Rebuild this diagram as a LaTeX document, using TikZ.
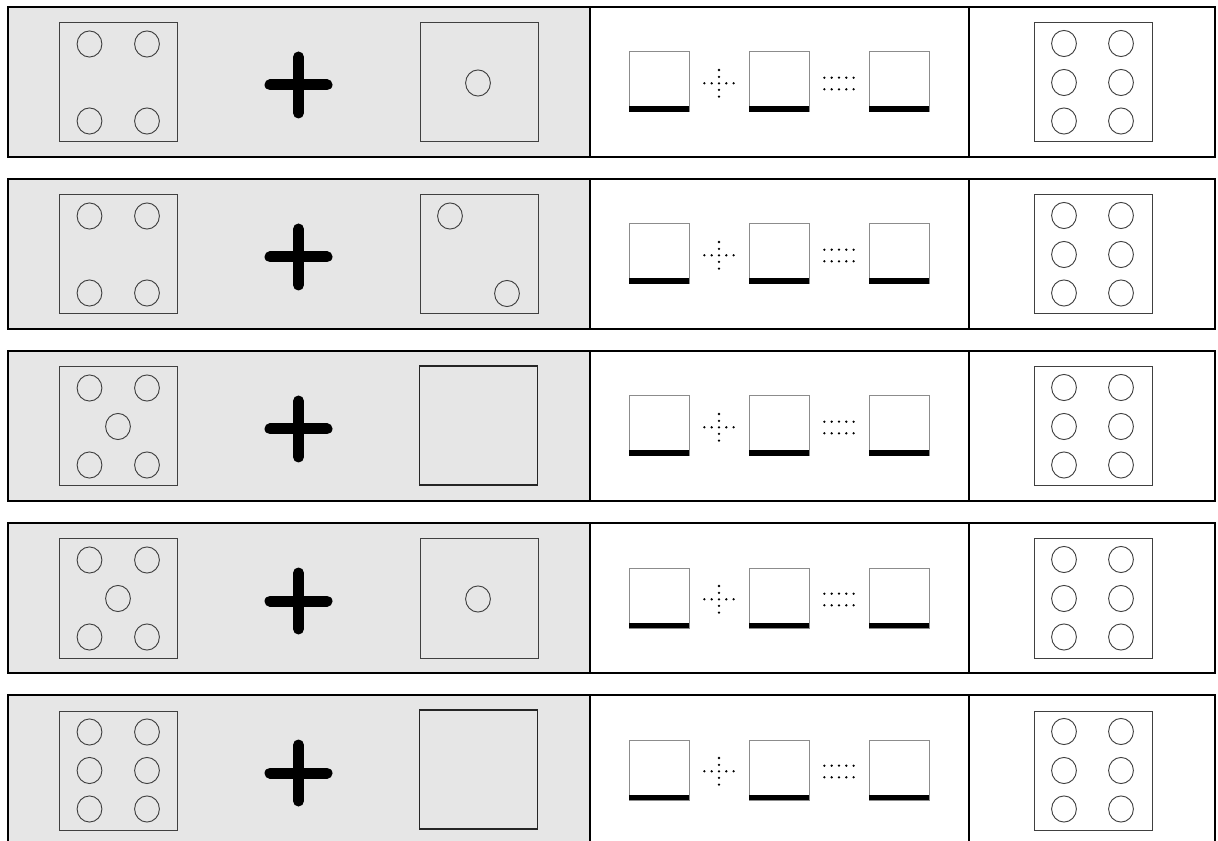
\documentclass[tikz,border=0pt]{standalone}
\usetikzlibrary{calc}
\definecolor{panelgray}{HTML}{E6E6E6}
\definecolor{diegray}{HTML}{404040}
\definecolor{slotgray}{HTML}{8C8C8C}
\tikzset{
  panel/.style={draw=black, line width=1.5pt},
  die/.style={draw=diegray, line width=0.75pt, minimum width=88.5pt, minimum height=89.25pt,
              inner sep=0pt, outer sep=0pt, anchor=north west},
  emptydie/.style={die, draw=black!85, line width=1.2pt},
  pip/.style={draw=diegray, line width=0.7pt},
  plussign/.style={line width=8.25pt, line cap=round, draw=black},
  slot/.style={draw=slotgray, line width=0.75pt, fill=white, minimum width=45pt, minimum height=45pt,
               inner sep=0pt, outer sep=0pt, anchor=north west},
  dotmark/.style={fill=black, draw=none},
}
\newcommand\diepips[2]{\foreach \px/\py in {#2}{\draw[pip] ($(#1.north west)+(\px,\py)$) ellipse [x radius=9.3pt, y radius=9.8pt];}}
\begin{document}
\begin{tikzpicture}[x=0.75pt, y=-0.75pt]
\useasboundingbox (0,0) rectangle (1218,841);
\clip (0,0) rectangle (1218,841);
\foreach \r/\T in {1/7,2/179,3/351,4/523,5/695}{
  % panels
  \fill[panelgray] (7.5,\T) rectangle (589.5,\T+150);
  \draw[panel] (7.5,\T) rectangle (1215,\T+150);
  \draw[panel] (589.5,\T) -- (589.5,\T+150);
  \draw[panel] (968.5,\T) -- (968.5,\T+150);
  % plus sign
  \coordinate (P\r) at (298.5,\T+78);
  \draw[plussign] ($(P\r)+(-28.5,0)$) -- ($(P\r)+(28.5,0)$);
  \draw[plussign] ($(P\r)+(0,-28)$) -- ($(P\r)+(0,28)$);
  % slots
  \foreach \k/\sx in {1/629,2/749,3/869}{
    \node[slot] (S\r-\k) at (\sx,\T+45) {};
    \fill[black] ($(S\r-\k.south west)+(0,-5.5)$) rectangle (S\r-\k.south east);
  }
  % dotted plus
  \coordinate (DP\r) at (719,\T+76.3);
  \foreach \dx in {-14.6,-7.3,0,7.3,14.6}{\fill[dotmark] ($(DP\r)+(\dx,0)$) circle[radius=0.95pt];}
  \foreach \dy in {-13.3,-6.5,6.5,13.3}{\fill[dotmark] ($(DP\r)+(0,\dy)$) circle[radius=0.95pt];}
  % dotted equals
  \coordinate (DE\r) at (839,\T+76.5);
  \foreach \dx in {-14.6,-7.3,0,7.3,14.6}{
    \fill[dotmark] ($(DE\r)+(\dx,-5.8)$) circle[radius=0.95pt];
    \fill[dotmark] ($(DE\r)+(\dx,5.8)$) circle[radius=0.95pt];
  }
  % result die
  \node[die] (Z\r) at (1034,\T+16) {};
  \diepips{Z\r}{30/20.5,87/20.5,30/59.5,87/59.5,30/98,87/98}
}
% left dice
\node[die] (L1) at (59,23) {};
\diepips{L1}{30.5/21,88/21,30.5/98,88/98}
\node[die] (L2) at (59,195) {};
\diepips{L2}{30.5/21,88/21,30.5/98,88/98}
\node[die] (L3) at (59,367) {};
\diepips{L3}{30.5/21,88/21,59/59.5,30.5/98,88/98}
\node[die] (L4) at (59,539) {};
\diepips{L4}{30.5/21,88/21,59/59.5,30.5/98,88/98}
\node[die] (L5) at (59,711) {};
\diepips{L5}{30.5/21,88/21,30.5/59.5,88/59.5,30.5/98,88/98}
% right dice
\node[die] (R1) at (420,23) {};
\diepips{R1}{58/60}
\node[die] (R2) at (420,195) {};
\diepips{R2}{30/21,87/98.5}
\node[emptydie] (R3) at (419.5,366) {};
\node[die] (R4) at (420,539) {};
\diepips{R4}{58/60}
\node[emptydie] (R5) at (419.5,710) {};
\end{tikzpicture}
\end{document}
